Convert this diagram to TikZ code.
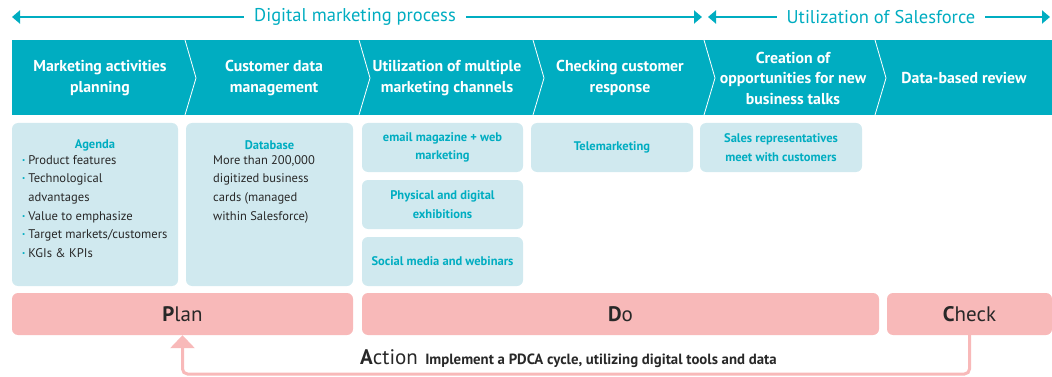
\documentclass[tikz,border=0pt]{standalone}
\usepackage{fontspec}
\setmainfont{PT Sans}
\usetikzlibrary{arrows.meta}
\definecolor{procteal}{RGB}{0,173,193}
\definecolor{cardblue}{RGB}{208,233,239}
\definecolor{pdcapink}{RGB}{248,185,185}
\definecolor{inkgray}{RGB}{40,40,40}
\newcommand{\dotitem}{\textcolor{procteal}{\textbf{·}}\hspace{3pt}}
\begin{document}
\begin{tikzpicture}[x=1pt,y=-1pt,
    flow/.style={{Triangle[length=8pt,width=13pt]}-{Triangle[length=8pt,width=13pt]},line width=2.6pt,draw=procteal},
    flowtitle/.style={fill=white,text=procteal,inner xsep=10pt,font=\fontsize{18.5}{20}\selectfont},
    stephead/.style={text=white,align=center,font=\fontsize{15.8}{20.5}\selectfont\bfseries},
    card/.style={fill=cardblue,rounded corners=6pt,inner sep=0pt},
    cardtext/.style={text=procteal,align=center,font=\fontsize{12.5}{18.7}\selectfont\bfseries},
    pdca/.style={fill=pdcapink,rounded corners=6pt,inner sep=0pt,text=inkgray,font=\fontsize{21}{22}\selectfont},
    loopback/.style={-{Triangle[length=13pt,width=24pt]},line width=3pt,draw=pdcapink,rounded corners=5pt}]
  \useasboundingbox (0,0) rectangle (1052,377);
  % process and Salesforce spans
  \coordinate (dmL) at (12,17);
  \coordinate (dmR) at (702,17);
  \coordinate (sfL) at (708,17);
  \coordinate (sfR) at (1050,17);
  \draw[flow] (dmL) -- (dmR);
  \draw[flow] (sfL) -- (sfR);
  \node[flowtitle] (dmtitle) at (355,17) {Digital marketing process};
  \node[flowtitle] (sftitle) at (881,17) {Utilization of Salesforce};
  % chevron band
  \fill[procteal] (12,40) rectangle (1052,115);
  \foreach \s in {185,359,533,704,875}
    \draw[white,line width=0.8pt] (\s,40) -- (\s+11,78) -- (\s,115);
  \node[stephead] (planning) at (100,78) {Marketing activities\\planning};
  \node[stephead] (customer) at (274,78) {Customer data\\management};
  \node[stephead] (channels) at (447,78) {Utilization of multiple\\marketing channels};
  \node[stephead] (response) at (620,78) {Checking customer\\response};
  \node[stephead] (talks) at (793,78) {Creation of\\opportunities for new\\business talks};
  \node[stephead] (review) at (964,78) {Data-based review};
  % detail cards
  \node[card,minimum width=166pt,minimum height=163pt] (agenda) at (95,204.5) {};
  \node[card,minimum width=167pt,minimum height=163pt] (database) at (269.5,204.5) {};
  \node[card,minimum width=161pt,minimum height=49pt] (email) at (442.5,147.5) {};
  \node[card,minimum width=161pt,minimum height=49pt] (expo) at (442.5,204.5) {};
  \node[card,minimum width=161pt,minimum height=49pt] (social) at (442.5,261.5) {};
  \node[card,minimum width=162pt,minimum height=49pt] (tele) at (612,147.5) {};
  \node[card,minimum width=162pt,minimum height=49pt] (sales) at (781,147.5) {};
  \node[cardtext] at (95,145) {Agenda};
  \node[cardtext] at (269.5,145) {Database};
  \node[anchor=north west,align=left,inner sep=0pt,text=inkgray,font=\fontsize{12.6}{18.7}\selectfont] (agendalist) at (22,155)
    {\dotitem Product features\\
     \dotitem Technological\\
     \hphantom{\dotitem}advantages\\
     \dotitem Value to emphasize\\
     \dotitem Target markets/customers\\
     \dotitem KGIs \& KPIs};
  \node[anchor=north west,align=left,inner sep=0pt,text=inkgray,font=\fontsize{12.5}{18.7}\selectfont] (cards) at (213,155)
    {More than 200,000\\digitized business\\cards (managed\\within Salesforce)};
  \node[cardtext] at (email) {email magazine + web\\marketing};
  \node[cardtext] at (expo) {Physical and digital\\exhibitions};
  \node[cardtext] at (social) {Social media and webinars};
  \node[cardtext] at (tele) {Telemarketing};
  \node[cardtext] at (sales) {Sales representatives\\meet with customers};
  % PDCA row
  \node[pdca,minimum width=341pt,minimum height=42pt] (P) at (182.5,314) {\textbf{P}lan};
  \node[pdca,minimum width=517pt,minimum height=42pt] (D) at (620.5,314) {\textbf{D}o};
  \node[pdca,minimum width=165pt,minimum height=42pt] (C) at (969.5,314) {\textbf{C}heck};
  \coordinate (base) at (0,374);
  \draw[loopback] (C.south) |- (base -| P.south) -- (P.south);
  \node[anchor=base west,inner sep=0pt,text=inkgray,font=\fontsize{21}{21}\selectfont] (act) at (360,364) {\textbf{A}ction};
  \node[anchor=base west,inner sep=0pt,text=inkgray,font=\fontsize{14.8}{16}\selectfont\bfseries] (actnote) at ([xshift=7pt]act.base east) {Implement a PDCA cycle, utilizing digital tools and data};
\end{tikzpicture}
\end{document}
